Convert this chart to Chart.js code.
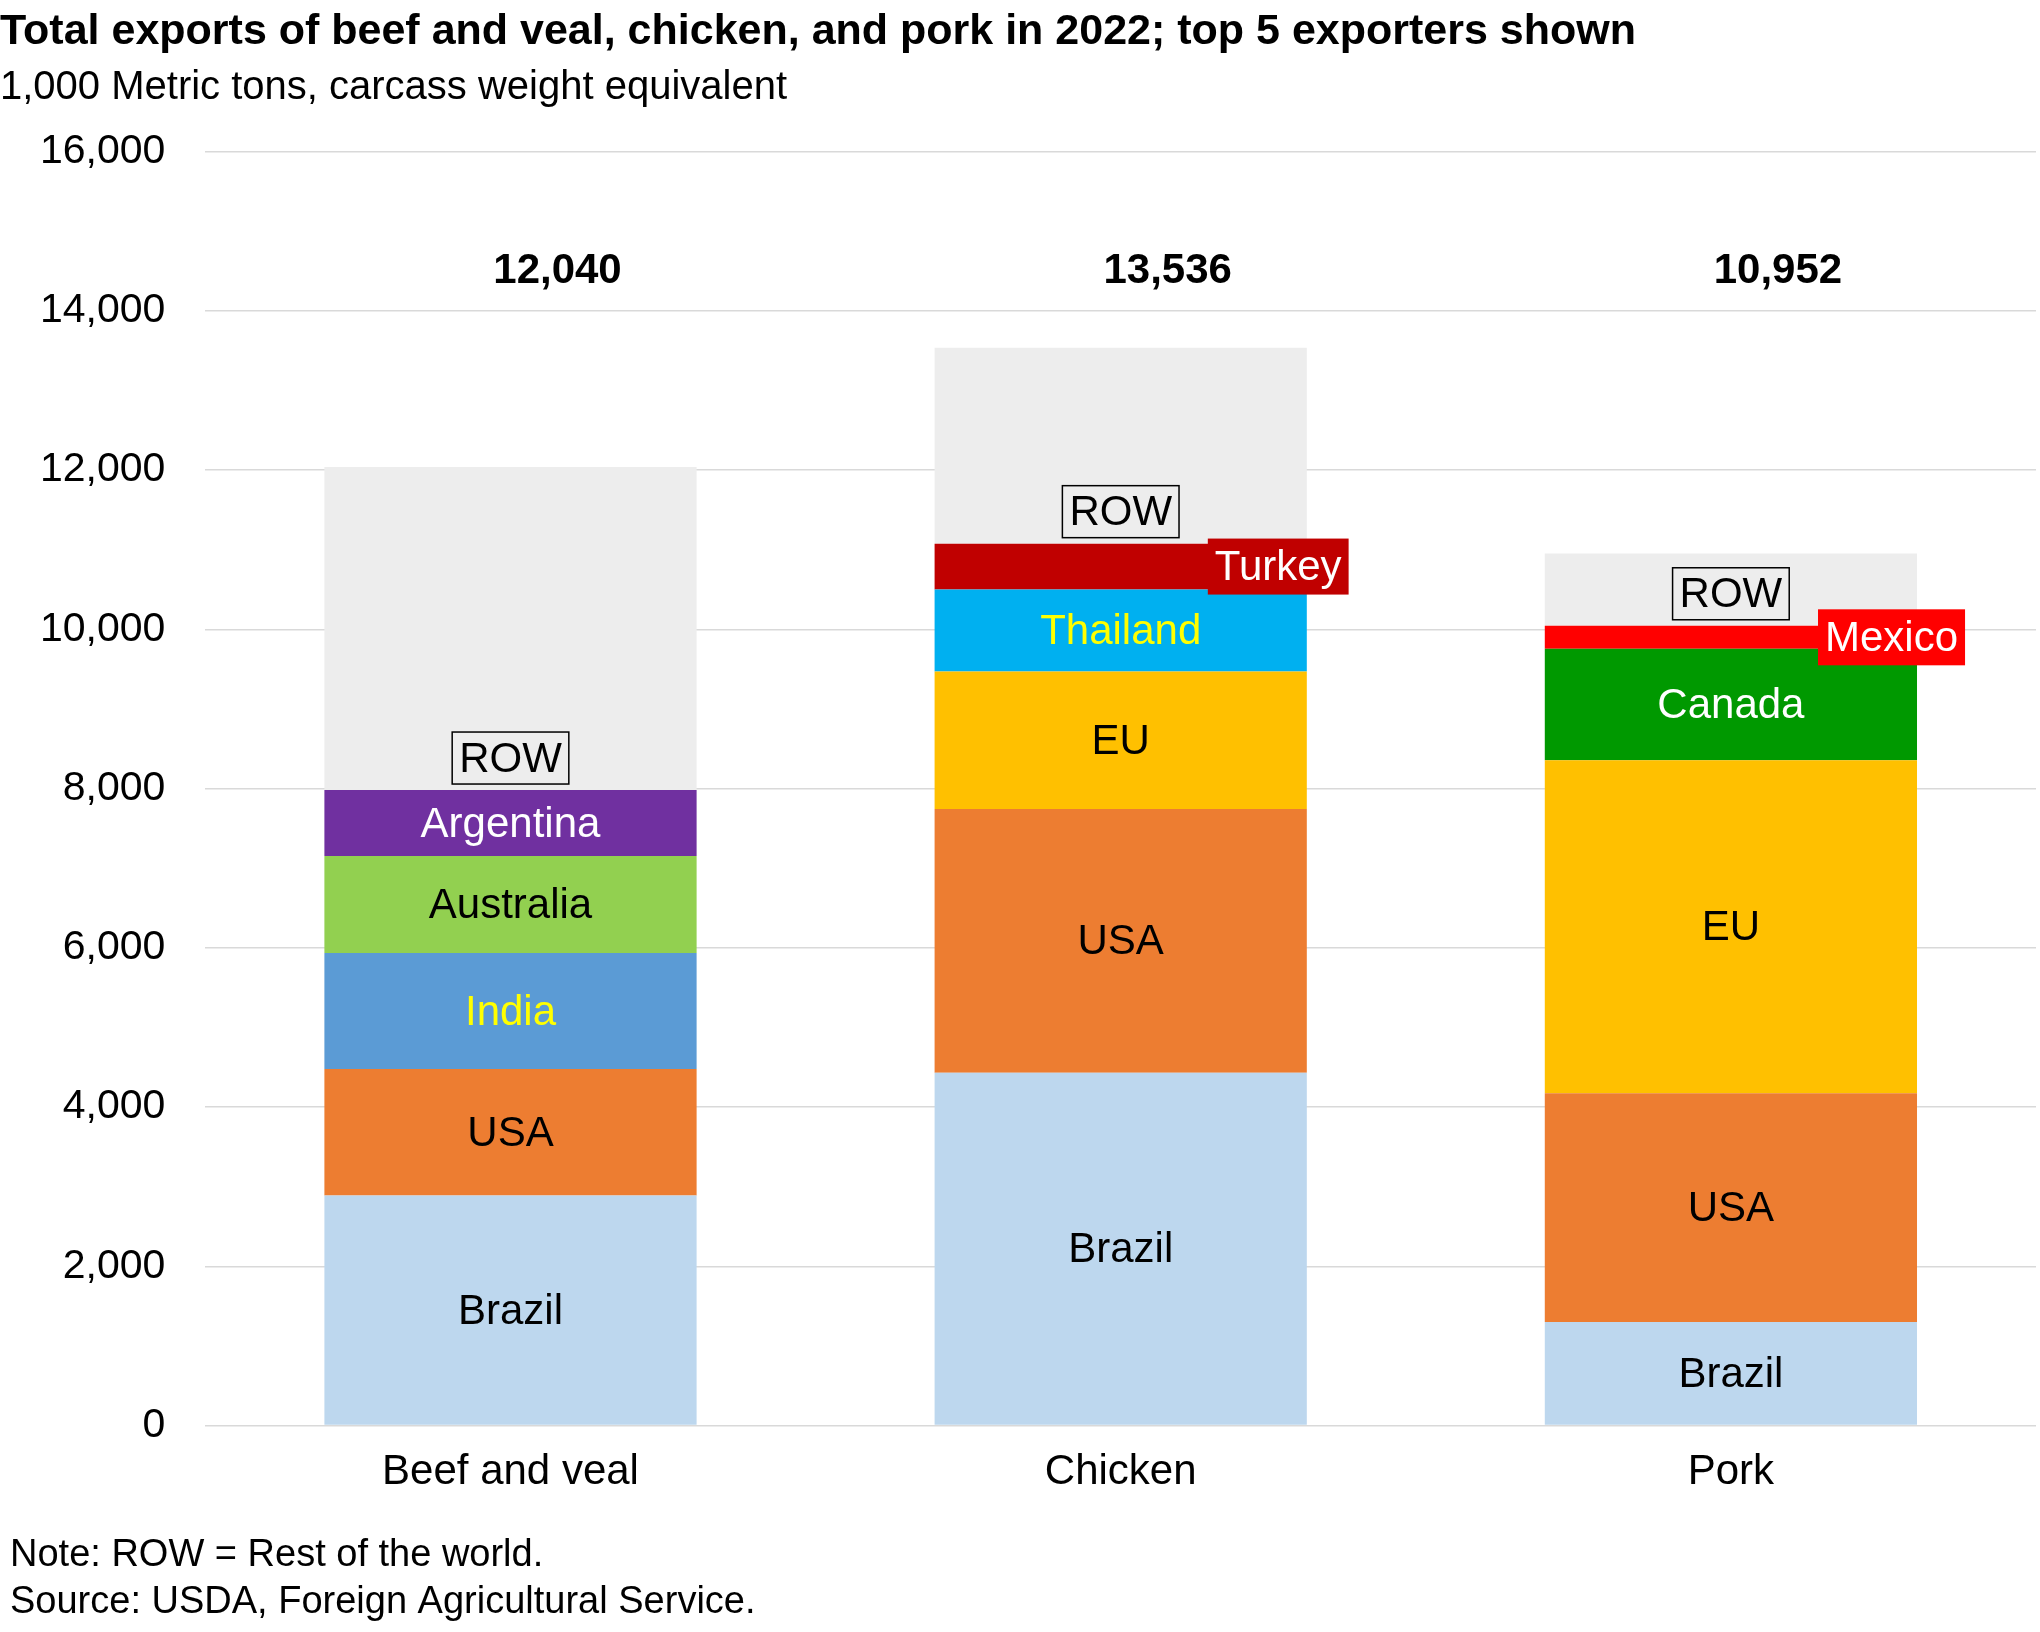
<!DOCTYPE html>
<html><head><meta charset="utf-8">
<script src="https://cdn.jsdelivr.net/npm/chart.js@4"></script>
<style>html,body{margin:0;padding:0;background:#fff}#w{width:2040px;height:1632px}</style>
</head><body><div id="w"><canvas id="c"></canvas></div>
<script>
const categories = ["Beef and veal","Chicken","Pork"];
const totals = [12040, 13536, 10952];
const seg1Names = ["Brazil","Brazil","Brazil"];
const seg1Values = [2890, 4430, 1300];
const seg2Names = ["USA","USA","USA"];
const seg2Values = [1590, 3315, 2875];
const seg3Names = ["India","EU","EU"];
const seg3Values = [1455, 1725, 4180];
const seg4Names = ["Australia","Thailand","Canada"];
const seg4Values = [1217, 1031, 1400];
const seg5Names = ["Argentina","Turkey","Mexico"];
const seg5Values = [830, 575, 290];
const rowValues = totals.map((t,i)=>t-seg1Values[i]-seg2Values[i]-seg3Values[i]-seg4Values[i]-seg5Values[i]);
const yTicks = [0,2000,4000,6000,8000,10000,12000,14000,16000];

const colors = {Brazil:"#BDD7EE",USA:"#ED7D31",India:"#5B9BD5",Australia:"#92D050",Argentina:"#7030A0",
  EU:"#FFC000",Thailand:"#00B0F0",Turkey:"#C00000",Canada:"#009900",Mexico:"#FF0000",ROW:"#EDEDED"};
const textColors = {India:"#FFFF00",Thailand:"#FFFF00",Argentina:"#FFFFFF",Canada:"#FFFFFF"};
const F = "'Liberation Sans', Arial, sans-serif";

const segs = [[seg1Names,seg1Values],[seg2Names,seg2Values],[seg3Names,seg3Values],[seg4Names,seg4Values],[seg5Names,seg5Values],[["ROW","ROW","ROW"],rowValues]];
const datasets = segs.map(([n,v])=>({data:v,names:n,backgroundColor:n.map(x=>colors[x]),borderWidth:0,barPercentage:0.61,categoryPercentage:1}));

const labels = {
  id:'labels',
  afterDatasetsDraw(chart){
    const ctx=chart.ctx; ctx.save();
    ctx.textAlign='center'; ctx.textBaseline='middle';
    ctx.font='42px '+F;
    chart.data.datasets.forEach((ds,di)=>{
      chart.getDatasetMeta(di).data.forEach((el,i)=>{
        const name=ds.names[i]; const cy=(el.y+el.base)/2;
        if(name==='ROW'){
          const below=chart.getDatasetMeta(di-1).data[i];
          const y=below.y-32; const w=ctx.measureText('ROW').width+14;
          ctx.fillStyle='#EDEDED'; ctx.fillRect(el.x-w/2,y-26,w,52);
          ctx.strokeStyle='#000'; ctx.lineWidth=1.5; ctx.strokeRect(el.x-w/2,y-26,w,52);
          ctx.fillStyle='#000'; ctx.fillText('ROW',el.x,y+2);
        } else if(name==='Turkey'||name==='Mexico'){
          const w=ctx.measureText(name).width+14; const x0=el.x+el.width/2-99;
          ctx.fillStyle=name==='Turkey'?'#C00000':'#FF0000';
          ctx.fillRect(x0,cy-28,w,56);
          ctx.fillStyle='#fff'; ctx.textAlign='left'; ctx.fillText(name,x0+7,cy+2); ctx.textAlign='center';
        } else {
          ctx.fillStyle=textColors[name]||'#000'; ctx.fillText(name,el.x,cy+2);
        }
      });
    });
    ctx.font='bold 42px '+F; ctx.fillStyle='#000';
    const ys=chart.scales.y.getPixelForValue(14500);
    chart.getDatasetMeta(0).data.forEach((el,i)=>ctx.fillText(totals[i].toLocaleString('en-US'),el.x+47,ys));
    ctx.textAlign='left'; ctx.font='38px '+F;
    ctx.fillText('Note: ROW = Rest of the world.',10,1556);
    ctx.fillText('Source: USDA, Foreign Agricultural Service.',10,1603);
    ctx.restore();
  }
};

new Chart(document.getElementById('c'),{
  type:'bar',
  data:{labels:categories,datasets},
  plugins:[labels],
  options:{responsive:true,maintainAspectRatio:false,animation:false,devicePixelRatio:1,
    layout:{padding:{left:0,right:4,top:0,bottom:120}},
    plugins:{legend:{display:false},tooltip:{enabled:false},
      title:{display:true,text:'Total exports of beef and veal, chicken, and pork in 2022; top 5 exporters shown',align:'start',color:'#000',font:{family:F,size:43,weight:'bold'},padding:{top:6,bottom:6}},
      subtitle:{display:true,text:'1,000 Metric tons, carcass weight equivalent',align:'start',color:'#000',font:{family:F,size:40},padding:{bottom:40}}},
    scales:{
      x:{stacked:true,grid:{display:false},border:{display:false},ticks:{color:'#000',font:{family:F,size:42},padding:14}},
      y:{stacked:true,min:0,max:16000,afterBuildTicks:s=>{s.ticks=yTicks.map(v=>({value:v}));},
        grid:{color:'#D9D9D9',lineWidth:1.5,drawTicks:false},border:{display:false},
        ticks:{color:'#000',font:{family:F,size:41},padding:40,callback:v=>v.toLocaleString('en-US')}}
    }}
});
</script></body></html>
